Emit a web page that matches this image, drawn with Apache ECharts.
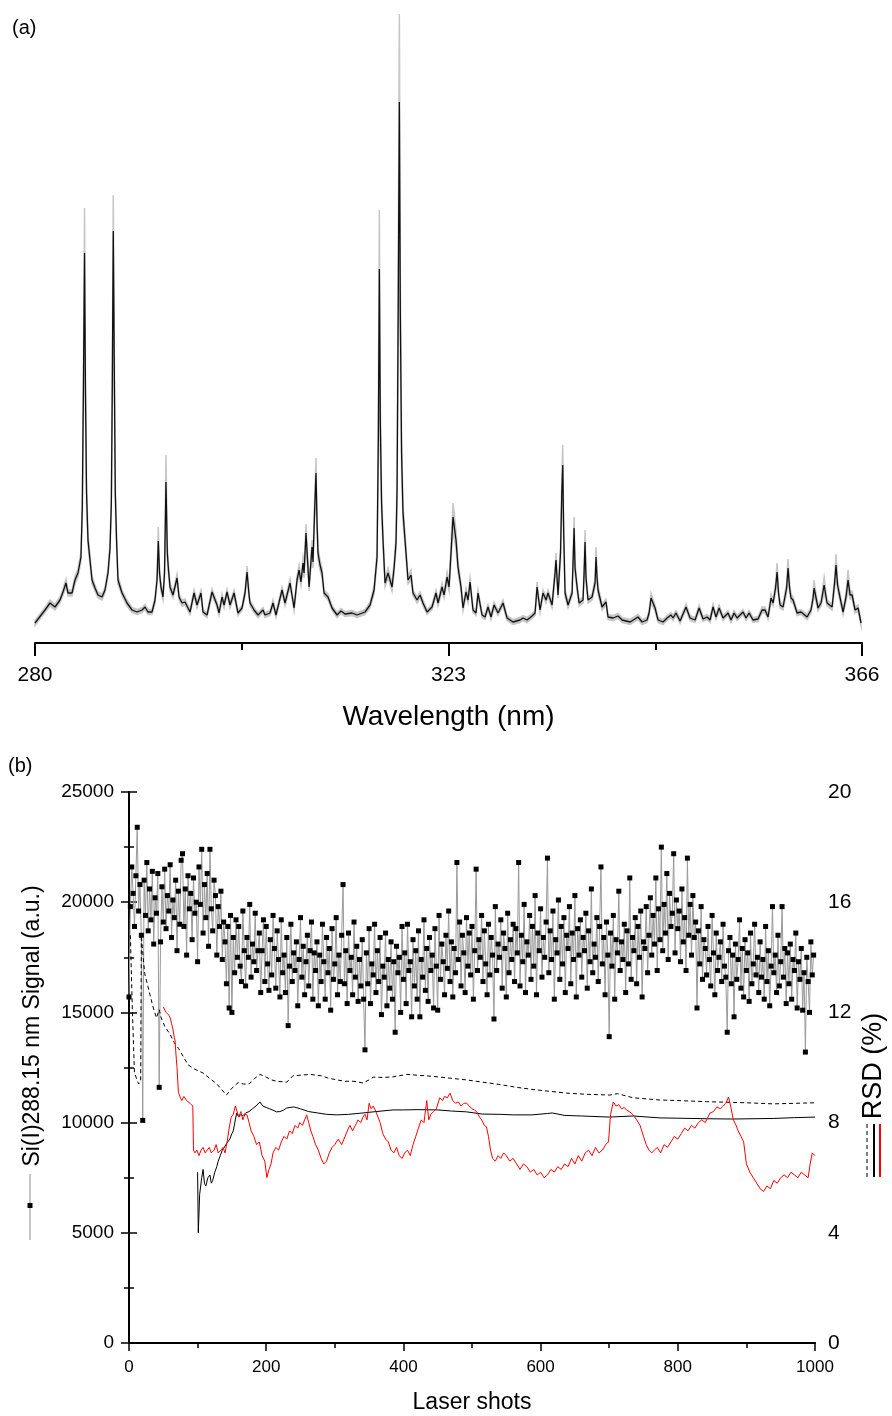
<!DOCTYPE html>
<html>
<head>
<meta charset="utf-8">
<script src="https://cdn.jsdelivr.net/npm/echarts@6/dist/echarts.min.js"></script>
<style>
  html, body { margin: 0; padding: 0; background: #fff; }
  #chart { width: 892px; height: 1416px; }
</style>
</head>
<body>
<div id="chart"></div>
<script>
// (a) averaged spectrum: wavelength (nm), mean intensity (a.u.), standard deviation
const wavelengths = [
  280.00, 281.04, 281.56, 282.08, 282.60, 282.91, 283.22, 283.43, 283.85, 284.16, 284.47, 284.78, 284.92,
  285.04, 285.15, 285.25, 285.36, 285.51, 285.93, 286.24, 286.55, 286.97, 287.28, 287.59, 287.80, 287.94,
  288.04, 288.14, 288.25, 288.35, 288.48, 288.63, 289.05, 289.57, 290.09, 290.61, 291.13, 291.44, 291.75,
  292.17, 292.48, 292.69, 292.82, 292.95, 293.10, 293.31, 293.47, 293.62, 293.76, 293.88, 294.04, 294.35,
  294.77, 294.98, 295.29, 295.60, 296.12, 296.54, 296.85, 297.26, 297.47, 297.89, 298.41, 298.93, 299.14,
  299.45, 299.66, 299.97, 300.28, 300.70, 301.11, 301.53, 301.84, 302.05, 302.26, 302.36, 302.78, 303.19,
  303.71, 303.92, 304.44, 304.75, 305.06, 305.69, 306.00, 306.52, 306.94, 307.25, 307.46, 307.66, 307.87,
  307.98, 308.18, 308.50, 308.81, 308.91, 309.07, 309.22, 309.33, 309.43, 309.64, 309.85, 310.06, 310.47,
  310.89, 311.41, 311.82, 312.24, 312.97, 313.49, 314.32, 314.84, 315.26, 315.57, 315.70, 315.81, 315.91,
  316.04, 316.19, 316.40, 316.71, 317.13, 317.34, 317.54, 317.65, 317.78, 317.89, 317.99, 318.12, 318.27,
  318.48, 318.79, 319.10, 319.31, 319.73, 320.04, 320.35, 320.77, 321.29, 321.70, 321.91, 322.33, 322.54,
  322.85, 323.06, 323.26, 323.47, 323.78, 323.99, 324.30, 324.51, 324.82, 325.03, 325.24, 325.55, 325.86,
  326.07, 326.49, 326.80, 327.11, 327.42, 327.74, 328.15, 328.67, 329.09, 329.71, 330.44, 330.75, 331.17,
  331.69, 332.00, 332.21, 332.52, 332.83, 333.14, 333.35, 333.77, 334.08, 334.18, 334.39, 334.65, 334.78,
  334.88, 334.98, 335.12, 335.43, 335.85, 335.95, 336.06, 336.16, 336.37, 336.58, 336.99, 337.10, 337.20,
  337.30, 337.51, 337.93, 338.24, 338.34, 338.45, 338.55, 338.97, 339.38, 339.59, 340.11, 340.63, 341.05,
  341.88, 342.71, 343.13, 343.65, 343.86, 344.06, 344.27, 344.48, 344.79, 345.31, 345.73, 346.14, 346.35,
  346.66, 347.08, 347.70, 348.12, 348.64, 349.06, 349.47, 349.89, 350.20, 350.51, 350.82, 351.14, 351.55,
  352.07, 352.38, 352.70, 353.01, 353.63, 353.94, 354.26, 354.67, 355.19, 355.61, 355.92, 356.23, 356.54,
  356.75, 357.01, 357.17, 357.32, 357.48, 357.79, 358.16, 358.31, 358.47, 358.62, 358.83, 359.25, 359.66,
  360.29, 360.70, 360.91, 361.02, 361.12, 361.43, 361.74, 362.06, 362.37, 362.89, 363.15, 363.30, 363.46,
  363.62, 364.03, 364.34, 364.55, 364.76, 364.97, 365.28, 365.59, 365.90
];
const specMean = [
  20, 33, 40, 36, 43, 51, 60, 50, 50, 63, 70, 86, 136,
  260, 390, 250, 150, 103, 63, 55, 48, 46, 53, 70, 95, 140,
  260, 412, 270, 150, 103, 63, 50, 40, 33, 31, 33, 36, 31,
  31, 43, 63, 102, 70, 56, 46, 70, 161, 90, 73, 56, 48,
  65, 46, 40, 41, 31, 50, 38, 50, 31, 28, 51, 38, 30,
  46, 38, 51, 38, 50, 30, 35, 50, 71, 48, 40, 33, 28,
  33, 28, 30, 40, 28, 53, 40, 60, 35, 63, 73, 61, 80,
  70, 110, 56, 96, 81, 130, 170, 120, 90, 78, 70, 50, 46,
  35, 28, 32, 29, 30, 28, 31, 38, 53, 86, 200, 374, 220,
  140, 103, 60, 70, 56, 75, 100, 153, 350, 541, 330, 190, 130,
  103, 63, 68, 50, 43, 48, 40, 31, 36, 50, 40, 56, 48,
  66, 56, 90, 126, 103, 76, 56, 35, 51, 43, 61, 33, 30,
  50, 28, 26, 36, 26, 38, 30, 40, 25, 21, 23, 25, 23,
  27, 30, 56, 33, 50, 43, 50, 38, 70, 83, 48, 90, 150,
  178, 110, 50, 38, 50, 80, 115, 75, 56, 40, 43, 70, 101,
  65, 43, 46, 60, 86, 65, 53, 36, 41, 26, 25, 27, 23,
  21, 26, 21, 23, 30, 45, 40, 35, 23, 21, 25, 28, 25,
  30, 22, 36, 25, 23, 35, 24, 26, 23, 36, 26, 35, 25,
  30, 23, 30, 25, 31, 25, 30, 23, 24, 33, 33, 26, 45,
  40, 55, 71, 50, 38, 36, 55, 75, 55, 45, 43, 30, 31,
  26, 33, 45, 55, 50, 35, 40, 58, 40, 36, 60, 78, 58,
  50, 31, 46, 63, 48, 48, 33, 35, 20
];
const specSd = [
  2.5, 2.5, 3, 3, 3, 3, 4, 3, 3, 4, 4, 5, 8,
  20, 45, 20, 10, 6, 4, 3, 3, 3, 3, 4, 5, 8,
  18, 36, 18, 9, 6, 4, 3, 3, 2.5, 2.5, 2.5, 2.5, 2.5,
  2.5, 3, 4, 14, 5, 4, 3, 5, 27, 6, 5, 4, 3,
  4, 3, 3, 3, 2.5, 3, 3, 3, 2.5, 2.5, 3, 3, 2.5,
  3, 3, 3, 3, 3, 2.5, 2.5, 3, 6, 3, 3, 2.5, 2.5,
  2.5, 2.5, 2.5, 3, 2.5, 3, 3, 4, 3, 4, 5, 4, 5,
  5, 9, 4, 7, 6, 9, 15, 8, 6, 5, 5, 3, 3,
  2.5, 2.5, 2.5, 2.5, 2.5, 2.5, 2.5, 3, 4, 6, 25, 59, 25,
  10, 6, 4, 5, 4, 5, 7, 15, 45, 88, 40, 15, 9,
  6, 4, 5, 3, 3, 3, 3, 2.5, 2.5, 3, 3, 4, 3,
  5, 4, 8, 14, 9, 6, 4, 3, 4, 3, 4, 2.5, 2.5,
  3, 2.5, 2.5, 2.5, 2.5, 3, 2.5, 3, 2.5, 2.5, 2.5, 2.5, 2.5,
  2.5, 2.5, 5, 2.5, 3, 3, 3, 3, 5, 7, 3, 7, 14,
  20, 9, 4, 3, 3, 6, 11, 6, 4, 3, 3, 5, 12,
  5, 3, 3, 4, 10, 5, 4, 3, 3, 2.5, 2.5, 2.5, 2.5,
  2.5, 2.5, 2.5, 2.5, 2.5, 5, 4, 3, 2.5, 2.5, 2.5, 2.5, 2.5,
  2.5, 2.5, 3, 2.5, 2.5, 3, 2.5, 2.5, 2.5, 3, 2.5, 3, 2.5,
  2.5, 2.5, 2.5, 2.5, 2.5, 2.5, 2.5, 2.5, 2.5, 3, 3, 2.5, 4,
  3, 5, 9, 4, 3, 3, 5, 9, 5, 4, 3, 2.5, 2.5,
  2.5, 3, 4, 8, 5, 3, 3, 8, 3, 3, 6, 11, 5,
  4, 3, 4, 10, 4, 4, 3, 3, 2.5
];
const wlLabelTicks = [280, 323, 366];
const wlMinorTicks = [301.5, 344.5];

// (b) Si(I) 288.15 nm signal, one value every 2 laser shots
const shotStep = 2;
const signal = [
  15700, 19800, 21600, 20400, 18900, 21200, 23400, 19600, 20800, 18500,
  10100, 21000, 19400, 21800, 18700, 20600, 19200, 21400, 18100, 20200,
  19500, 21300, 11600, 18200, 20700, 19100, 21500, 18800, 20300, 19600,
  21700, 18400, 20100, 19300, 21000, 17800, 20500, 19000, 21900, 22200,
  18900, 20600, 17600, 21200, 19700, 20400, 18300, 21100, 19500, 20000,
  17300, 21600, 19900, 22400, 18600, 20800, 19300, 21300, 18000, 22400,
  19700, 18700, 21000, 20300, 17600, 19800, 18900, 20500, 17400, 19100,
  18200, 16300, 18900, 15200, 19400, 15000, 18400, 16800, 19200, 17500,
  18900, 17100, 16400, 19600, 17800, 16200, 18400, 17500, 19900, 16600,
  18100, 17300, 19500, 16900, 17800, 18600, 15900, 17800, 19200, 16400,
  18900, 17200, 16000, 18300, 16700, 19400, 17900, 16100, 18700, 17400,
  15700, 19200, 16800, 17600, 15900, 18400, 14400, 17100, 19000, 16400,
  17700, 16900, 18200, 15300, 17400, 19300, 16600, 18000, 15800, 17300,
  18500, 16200, 17800, 19100, 15600, 17700, 16900, 18200, 15300, 17600,
  16400, 19000, 17300, 15600, 18400, 16800, 17900, 15100, 18800, 16500,
  17200, 19300, 15800, 17600, 16400, 18500, 20800, 16300, 17800, 15400,
  18600, 16900, 17500, 15800, 19100, 16600, 18000, 15500, 17400, 16200,
  18300, 15600, 13300, 17700, 16300, 18800, 15400, 17200, 16700, 19000,
  15900, 17800, 16400, 18400, 14900, 17100, 16600, 18600, 15300, 17400,
  16100, 18200, 15600, 17300, 14100, 18000, 16800, 17500, 15000, 18900,
  16500, 17700, 15400, 19000, 16900, 17300, 14800, 18300, 16200, 17800,
  15600, 18700, 14800, 17400, 16600, 19200, 16000, 17900, 15500, 18400,
  16900, 17600, 15200, 18800, 17100, 15100, 19400, 16500, 18100, 17300,
  15800, 18500, 17000, 19600, 16400, 18200, 15700, 17900, 16800, 21800,
  17400, 19100, 16200, 18500, 17700, 15900, 19300, 17100, 18600, 16700,
  18900, 15600, 17800, 21500, 16900, 18300, 17500, 19400, 16400, 18700,
  17200, 15800, 19000, 16700, 18400, 17600, 14700, 19800, 16900, 18100,
  17500, 19200, 16100, 18600, 17900, 15700, 19500, 16800, 18300, 17400,
  19000, 16400, 18800, 17700, 21800, 16200, 18500, 17300, 19900, 15900,
  18200, 17600, 19400, 16500, 18900, 17100, 20300, 15800, 18600, 17800,
  19700, 16600, 18400, 17500, 19100, 22000, 16800, 18700, 17400, 19600,
  15600, 18300, 17700, 20100, 16500, 18900, 17200, 19300, 15900, 18500,
  17900, 19800, 16300, 18600, 17400, 20300, 15700, 18800, 17600, 19200,
  16600, 18400, 17800, 19500, 16100, 18700, 17300, 20600, 16800, 18100,
  17500, 19300, 16400, 18900, 21600, 17200, 18400, 15800, 19100, 17600,
  13900, 18600, 17100, 19400, 15600, 18300, 17700, 20500, 16900, 18200,
  17400, 19000, 15900, 18700, 17200, 21100, 16500, 18400, 17800, 19300,
  16300, 18900, 17500, 19600, 15700, 18200, 17900, 19800, 16800, 18500,
  20200, 17600, 19400, 18100, 21100, 16900, 19700, 18300, 22500, 17800,
  19900, 18600, 21300, 17400, 20400, 18900, 19500, 22200, 17700, 20100,
  18800, 19600, 17300, 20600, 18200, 19300, 16900, 22000, 18500, 19900,
  17600, 20300, 18400, 19100, 15200, 18700, 17200, 19800, 16500, 18300,
  17900, 16700, 18900, 17400, 16200, 19400, 17700, 15800, 18600, 16900,
  17500, 18200, 16400, 19000, 17100, 16600, 14100, 17800, 18400, 16300,
  17600, 14800, 18100, 16500, 17400, 19200, 16100, 17900, 15700, 18300,
  16900, 17700, 15500, 18600, 16300, 17200, 19000, 16700, 17500, 15900,
  18200, 16600, 17400, 15600, 18900, 16400, 17800, 15300, 17100, 19800,
  16800, 17600, 15900, 18500, 16200, 17300, 19800, 16600, 17900, 15400,
  17700, 16300, 18100, 15600, 17400, 16900, 18600, 15200, 17300, 16500,
  17900, 15100, 16800, 13200, 17500, 16400, 15000, 18200, 16700, 17600
];

// RSD (%) curves: [laser shot, RSD]
const rsdCumulative = [
  [2, 14.8], [5, 12.0], [8, 9.8], [11, 9.6], [14, 9.4], [17, 9.5], [18, 14.8], [21, 13.9], [23, 13.4],
  [27, 13.0], [31, 12.6], [35, 12.2], [40, 11.8], [44, 12.1], [47, 11.8], [52, 11.5], [60, 11.2],
  [66, 10.9], [72, 10.7], [79, 10.4], [86, 10.1], [95, 9.95], [108, 9.8], [118, 9.6], [128, 9.4],
  [135, 9.2], [142, 9.0], [150, 9.25], [159, 9.45], [167, 9.4], [175, 9.4], [183, 9.6], [191, 9.75],
  [200, 9.65], [208, 9.55], [215, 9.5], [230, 9.47], [239, 9.7], [250, 9.72], [264, 9.75], [280, 9.7],
  [290, 9.62], [303, 9.55], [315, 9.5], [328, 9.5], [341, 9.44], [350, 9.55], [356, 9.65], [370, 9.64],
  [385, 9.66], [405, 9.75], [420, 9.72], [443, 9.68], [465, 9.62], [492, 9.55], [515, 9.47], [541, 9.38],
  [565, 9.28], [589, 9.2], [612, 9.14], [638, 9.07], [665, 9.03], [701, 9.0], [712, 9.05], [735, 8.9],
  [755, 8.86], [774, 8.82], [800, 8.8], [842, 8.76], [870, 8.74], [900, 8.72], [939, 8.68], [970, 8.7],
  [1000, 8.72]
];
const rsdMoving100 = [
  [100, 6.2], [101, 4.0], [103, 5.4], [106, 6.0], [108, 6.3], [110, 5.8], [112, 5.7], [115, 6.0],
  [118, 6.1], [120, 5.8], [122, 5.9], [125, 6.2], [128, 6.4], [130, 6.6], [133, 6.8], [136, 7.0],
  [139, 7.1], [141, 7.2], [144, 7.3], [147, 7.4], [150, 7.6], [152, 7.7], [155, 8.1], [157, 8.35],
  [160, 8.2], [163, 8.3], [166, 8.25], [170, 8.35], [175, 8.4], [180, 8.5], [185, 8.6], [191, 8.75],
  [195, 8.6], [200, 8.55], [205, 8.5], [210, 8.45], [215, 8.39], [220, 8.4], [225, 8.45], [230, 8.53],
  [240, 8.57], [250, 8.5], [262, 8.4], [275, 8.35], [288, 8.3], [303, 8.28], [320, 8.3], [341, 8.35],
  [360, 8.4], [385, 8.46], [400, 8.46], [420, 8.47], [450, 8.46], [470, 8.42], [492, 8.39], [515, 8.31],
  [541, 8.3], [560, 8.28], [587, 8.28], [610, 8.33], [617, 8.35], [635, 8.26], [660, 8.24], [700, 8.2],
  [735, 8.24], [774, 8.17], [800, 8.16], [842, 8.14], [880, 8.13], [939, 8.15], [970, 8.18], [1000, 8.2]
];
const rsdMoving50 = [
  [50, 12.2], [54, 12.0], [58, 11.9], [60, 11.8], [62, 11.6], [64, 11.4], [66, 11.1], [67, 11.0],
  [69, 10.3], [70, 10.0], [72, 9.1], [75, 8.9], [77, 8.8], [80, 8.95], [82, 9.0], [84, 8.8], [86, 8.85],
  [89, 8.7], [91, 8.75], [93, 8.6], [94, 7.0], [96, 6.9], [99, 7.0], [102, 6.8], [105, 7.0], [108, 7.1],
  [111, 6.9], [114, 7.0], [117, 7.1], [120, 6.9], [124, 7.0], [127, 7.2], [130, 6.9], [134, 7.0],
  [137, 7.1], [140, 6.9], [143, 7.3], [146, 7.8], [149, 8.2], [152, 8.3], [155, 8.6], [157, 8.57],
  [160, 8.2], [163, 8.4], [166, 8.1], [169, 8.3], [172, 8.28], [175, 8.0], [178, 7.7], [182, 7.5],
  [186, 7.2], [190, 7.3], [194, 6.8], [198, 6.6], [201, 6.0], [204, 6.3], [207, 6.5], [210, 6.9],
  [214, 7.1], [218, 7.0], [222, 7.3], [226, 7.5], [230, 7.4], [234, 7.7], [238, 7.6], [242, 7.9],
  [246, 7.8], [249, 8.0], [253, 7.9], [256, 8.1], [259, 8.28], [262, 8.0], [265, 7.7], [268, 7.5],
  [272, 7.2], [276, 7.0], [280, 6.7], [284, 6.5], [288, 6.6], [292, 6.9], [296, 7.1], [300, 7.2],
  [305, 7.4], [310, 7.2], [315, 7.5], [320, 7.8], [322, 7.9], [326, 7.7], [330, 7.9], [334, 8.1],
  [338, 8.0], [341, 8.2], [344, 8.3], [347, 8.1], [350, 8.7], [353, 8.5], [356, 8.6], [360, 8.4],
  [363, 8.2], [366, 8.0], [370, 7.6], [374, 7.4], [378, 7.3], [382, 7.0], [386, 6.9], [390, 7.1],
  [394, 6.8], [398, 6.7], [402, 6.9], [406, 7.0], [410, 6.8], [414, 7.2], [418, 7.5], [422, 7.8],
  [426, 8.1], [430, 8.0], [434, 8.8], [437, 8.1], [440, 8.3], [444, 8.4], [448, 8.5], [453, 8.9],
  [457, 8.8], [460, 8.95], [464, 8.9], [468, 9.07], [472, 8.8], [476, 8.7], [480, 8.75], [484, 8.6],
  [488, 8.7], [492, 8.71], [496, 8.6], [500, 8.5], [504, 8.45], [507, 8.39], [511, 8.2], [514, 8.1],
  [518, 7.9], [521, 7.85], [524, 7.5], [527, 7.0], [530, 6.7], [534, 6.6], [538, 6.8], [542, 6.7],
  [546, 6.9], [550, 6.8], [555, 6.6], [560, 6.7], [565, 6.5], [570, 6.3], [575, 6.5], [580, 6.4],
  [585, 6.2], [590, 6.3], [595, 6.1], [600, 6.2], [605, 6.0], [610, 6.1], [615, 6.3], [620, 6.2],
  [625, 6.4], [630, 6.3], [635, 6.5], [640, 6.4], [645, 6.7], [650, 6.5], [655, 6.8], [660, 6.6],
  [665, 6.9], [670, 7.0], [675, 6.8], [680, 7.1], [685, 6.9], [690, 7.0], [695, 7.2], [699, 7.3],
  [702, 8.3], [706, 8.75], [710, 8.6], [714, 8.65], [718, 8.5], [722, 8.55], [725, 8.46], [729, 8.4],
  [732, 8.35], [735, 8.28], [740, 8.1], [745, 7.9], [750, 7.5], [754, 7.2], [758, 7.0], [762, 6.9],
  [766, 7.0], [770, 7.1], [775, 6.9], [780, 7.2], [785, 7.1], [790, 7.3], [795, 7.5], [800, 7.4],
  [805, 7.6], [810, 7.8], [815, 7.7], [820, 7.9], [825, 7.8], [830, 8.0], [835, 8.1], [840, 8.0],
  [847, 8.35], [852, 8.4], [857, 8.57], [862, 8.5], [866, 8.6], [870, 8.7], [874, 8.93], [877, 8.6],
  [881, 8.1], [885, 7.9], [888, 7.7], [892, 7.5], [896, 7.3], [900, 6.5], [905, 6.2], [910, 6.0],
  [915, 5.8], [920, 5.6], [925, 5.5], [930, 5.7], [935, 5.6], [940, 5.9], [945, 5.8], [950, 6.0],
  [955, 6.1], [960, 6.0], [965, 6.2], [970, 6.1], [975, 6.0], [980, 6.2], [985, 6.1], [990, 6.0],
  [993, 6.5], [996, 6.9], [1000, 6.8]
];

const font = "'Liberation Sans', Arial, sans-serif";

const meanLine = wavelengths.map((w, i) => [w, specMean[i]]);
const signalData = signal.map((v, i) => [i * shotStep, v]);
const plainNumber = (v) => String(v);

// mean +/- sd band drawn as one polygon through the axis scales
function renderBand(params, api) {
  if (params.dataIndex !== 0) return null;
  const upper = wavelengths.map((w, i) => api.coord([w, specMean[i] + specSd[i]]));
  const lower = wavelengths.map((w, i) => api.coord([w, specMean[i] - specSd[i]])).reverse();
  return {
    type: "polygon",
    shape: { points: upper.concat(lower) },
    style: { fill: "#c6c6c6", stroke: "#c6c6c6", lineWidth: 1.5 }
  };
}

const chart = echarts.init(document.getElementById("chart"), null, { renderer: "canvas" });

const options = {
  animation: false,
  backgroundColor: "#fff",
  textStyle: { fontFamily: font, color: "#000" },
  grid: [
    { left: 35, right: 30, top: 0, height: 643 },
    { left: 129, right: 77, top: 792, height: 551 }
  ],
  xAxis: [
    {
      gridIndex: 0, type: "value", min: 280, max: 366, position: "bottom",
      axisLine: { lineStyle: { color: "#000", width: 2 } },
      axisTick: { customValues: wlLabelTicks, length: 13, lineStyle: { width: 2, color: "#000" } },
      axisLabel: { customValues: wlLabelTicks, fontSize: 21, color: "#000", margin: 22 },
      splitLine: { show: false },
      name: "Wavelength (nm)", nameLocation: "middle", nameGap: 60,
      nameTextStyle: { fontSize: 28, color: "#000" }
    },
    {
      gridIndex: 0, type: "value", min: 280, max: 366, position: "bottom",
      axisLine: { show: false },
      axisTick: { customValues: wlMinorTicks, length: 7, lineStyle: { width: 2, color: "#000" } },
      axisLabel: { show: false },
      splitLine: { show: false }
    },
    {
      gridIndex: 1, type: "value", min: 0, max: 1000, interval: 200, position: "bottom",
      axisLine: { lineStyle: { color: "#000", width: 2 } },
      axisTick: { length: 8, lineStyle: { width: 1.5, color: "#000" } },
      minorTick: { show: true, splitNumber: 2, length: 5, lineStyle: { width: 1.5, color: "#000" } },
      axisLabel: { fontSize: 17, color: "#000", margin: 16, formatter: plainNumber },
      splitLine: { show: false },
      name: "Laser shots", nameLocation: "middle", nameGap: 48,
      nameTextStyle: { fontSize: 23, color: "#000" }
    },
    {
      gridIndex: 1, type: "value", min: 0, max: 1000, interval: 200, position: "top",
      axisLine: { lineStyle: { color: "#000", width: 1.5 } },
      axisTick: { inside: true, length: 3, lineStyle: { width: 1.5, color: "#000" } },
      axisLabel: { show: false },
      splitLine: { show: false }
    }
  ],
  yAxis: [
    { gridIndex: 0, type: "value", min: 0, max: 643, show: false },
    {
      gridIndex: 1, type: "value", min: 0, max: 25000, interval: 5000, position: "left",
      axisLine: { show: true, lineStyle: { color: "#000", width: 2 } },
      axisTick: { show: true, length: 8, lineStyle: { width: 1.5, color: "#000" } },
      minorTick: { show: true, splitNumber: 2, length: 5, lineStyle: { width: 1.5, color: "#000" } },
      axisLabel: { fontSize: 19, color: "#000", margin: 15, formatter: plainNumber },
      splitLine: { show: false }
    },
    {
      gridIndex: 1, type: "value", min: 0, max: 20, interval: 4, position: "right",
      axisLine: { show: true, lineStyle: { color: "#000", width: 2 } },
      axisTick: { show: true, length: 8, lineStyle: { width: 1.5, color: "#000" } },
      minorTick: { show: true, splitNumber: 2, length: 5, lineStyle: { width: 1.5, color: "#000" } },
      axisLabel: { fontSize: 21, color: "#000", margin: 13, formatter: plainNumber },
      splitLine: { show: false }
    }
  ],
  series: [
    {
      name: "band", type: "custom", xAxisIndex: 0, yAxisIndex: 0,
      data: meanLine, renderItem: renderBand, silent: true,
      encode: { x: 0, y: 1 }
    },
    {
      name: "spectrum", type: "line", xAxisIndex: 0, yAxisIndex: 0,
      data: meanLine, symbol: "none",
      lineStyle: { color: "#111", width: 1.3 }
    },
    {
      name: "Si(I)288.15 nm Signal", type: "line", xAxisIndex: 2, yAxisIndex: 1,
      data: signalData, showAllSymbol: true, symbol: "rect", symbolSize: 5,
      itemStyle: { color: "#000" },
      lineStyle: { color: "#9a9a9a", width: 1 }
    },
    {
      name: "RSD cumulative", type: "line", xAxisIndex: 2, yAxisIndex: 2,
      data: rsdCumulative, symbol: "none",
      lineStyle: { color: "#000", width: 1, type: [4, 3] }
    },
    {
      name: "RSD 100", type: "line", xAxisIndex: 2, yAxisIndex: 2,
      data: rsdMoving100, symbol: "none",
      lineStyle: { color: "#000", width: 1 }
    },
    {
      name: "RSD 50", type: "line", xAxisIndex: 2, yAxisIndex: 2,
      data: rsdMoving50, symbol: "none",
      lineStyle: { color: "#ff0000", width: 1 }
    }
  ],
  graphic: [
    { type: "text", left: 12, top: 18, style: { text: "(a)", font: "20px " + font, fill: "#000" } },
    { type: "text", left: 8, top: 756, style: { text: "(b)", font: "20px " + font, fill: "#000" } },
    {
      type: "text", x: 33, y: 1026, rotation: Math.PI / 2,
      style: {
        text: "Si(I)288.15 nm Signal (a.u.)", font: "23px " + font, fill: "#000",
        align: "center", verticalAlign: "middle", textAlign: "center", textVerticalAlign: "middle"
      }
    },
    { type: "line", shape: { x1: 30, y1: 1174, x2: 30, y2: 1240 }, style: { stroke: "#8a8a8a", lineWidth: 1 } },
    { type: "rect", shape: { x: 27.5, y: 1203, width: 5, height: 5 }, style: { fill: "#000" } },
    {
      type: "text", x: 874, y: 1066, rotation: Math.PI / 2,
      style: {
        text: "RSD (%)", font: "27px " + font, fill: "#000",
        align: "center", verticalAlign: "middle", textAlign: "center", textVerticalAlign: "middle"
      }
    },
    { type: "line", shape: { x1: 867, y1: 1124, x2: 867, y2: 1177 }, style: { stroke: "#000", lineWidth: 1, lineDash: [4, 3] } },
    { type: "line", shape: { x1: 874, y1: 1124, x2: 874, y2: 1177 }, style: { stroke: "#000", lineWidth: 2 } },
    { type: "line", shape: { x1: 880, y1: 1124, x2: 880, y2: 1177 }, style: { stroke: "#ff0000", lineWidth: 2 } }
  ]
};

chart.setOption(options);
</script>
</body>
</html>
